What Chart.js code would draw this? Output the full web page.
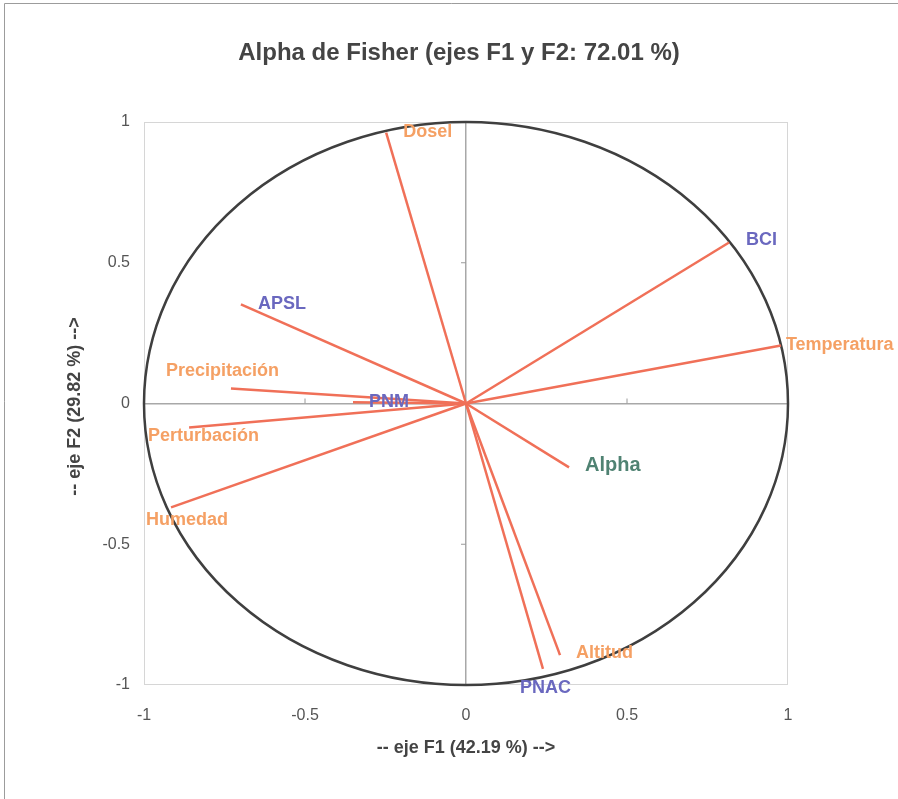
<!DOCTYPE html>
<html>
<head>
<meta charset="utf-8">
<script src="https://cdn.jsdelivr.net/npm/chart.js@4.4.1/dist/chart.umd.min.js"></script>
<style>
  html, body { margin: 0; padding: 0; background: #ffffff; }
  #wrap { width: 898px; height: 799px; position: relative; }
</style>
</head>
<body>
<div id="wrap"><canvas id="c" width="898" height="799"></canvas></div>
<script>
// ---- data ----
const chartTitle = 'Alpha de Fisher (ejes F1 y F2: 72.01 %)';
const xAxisTitle = '-- eje F1 (42.19 %) -->';
const yAxisTitle = '-- eje F2 (29.82 %) -->';
const tickValues = [-1, -0.5, 0, 0.5, 1];
const tickLabels = ['-1', '-0.5', '0', '0.5', '1'];
const varNames = ['Dosel', 'APSL', 'Precipitación', 'PNM', 'Perturbación', 'Humedad', 'BCI', 'Temperatura', 'Alpha', 'Altitud', 'PNAC'];
const f1Values = [-0.248, -0.699, -0.730, -0.351, -0.860, -0.916, 0.817, 0.978, 0.320, 0.292, 0.239];
const f2Values = [0.962, 0.352, 0.053, 0.004, -0.085, -0.369, 0.572, 0.206, -0.227, -0.894, -0.943];
const varGroups = ['activa', 'sup', 'activa', 'sup', 'activa', 'activa', 'sup', 'activa', 'dep', 'activa', 'sup'];

// ---- styles / label placement (pixels) ----
const FONT = '"Liberation Sans", Arial, sans-serif';
const groupColors = { activa: '#f5a064', sup: '#6a68bf', dep: '#4f8272' };
const groupFonts = { activa: 'bold 18px ' + FONT, sup: 'bold 18px ' + FONT, dep: 'bold 20px ' + FONT };
const labelOffsets = {
  'Dosel': [17, -1], 'APSL': [17, 0], 'Precipitación': [-65, -18], 'PNM': [16, 0],
  'Perturbación': [-41, 9], 'Humedad': [-25, 13], 'BCI': [17, -2], 'Temperatura': [5, 0],
  'Alpha': [16, -2], 'Altitud': [16, -2], 'PNAC': [-23, 19]
};

const datasets = varNames.map((name, i) => ({
  label: name,
  data: [{ x: 0, y: 0 }, { x: f1Values[i], y: f2Values[i] }],
  showLine: true,
  borderColor: '#f07058',
  borderWidth: 2.5,
  pointRadius: 0,
  fill: false
}));

const decorPlugin = {
  id: 'decor',
  beforeDatasetsDraw(chart) {
    const { ctx, chartArea: a, scales: { x, y } } = chart;
    ctx.save();
    ctx.strokeStyle = '#d6d6d6';
    ctx.lineWidth = 1;
    ctx.strokeRect(a.left + 0.5, a.top + 0.5, a.right - a.left - 1, a.bottom - a.top - 1);
    const x0 = x.getPixelForValue(0), y0 = y.getPixelForValue(0);
    ctx.strokeStyle = '#9a9a9a';
    ctx.lineWidth = 1;
    [-0.5, 0.5].forEach(v => {
      const px = x.getPixelForValue(v);
      ctx.beginPath(); ctx.moveTo(px, y0); ctx.lineTo(px, y0 - 5); ctx.stroke();
      const py = y.getPixelForValue(v);
      ctx.beginPath(); ctx.moveTo(x0, py); ctx.lineTo(x0 - 5, py); ctx.stroke();
    });
    const rx = x.getPixelForValue(1) - x0;
    const ry = y0 - y.getPixelForValue(1);
    ctx.strokeStyle = '#3f3f3f';
    ctx.lineWidth = 2.5;
    ctx.beginPath();
    ctx.ellipse(x0, y0, rx, ry, 0, 0, Math.PI * 2);
    ctx.stroke();
    ctx.restore();
  },
  afterDatasetsDraw(chart) {
    const { ctx, scales: { x, y } } = chart;
    ctx.save();
    ctx.textBaseline = 'middle';
    ctx.textAlign = 'left';
    varNames.forEach((name, i) => {
      const g = varGroups[i];
      const off = labelOffsets[name];
      ctx.font = groupFonts[g];
      ctx.fillStyle = groupColors[g];
      ctx.fillText(name, x.getPixelForValue(f1Values[i]) + off[0], y.getPixelForValue(f2Values[i]) + off[1]);
    });
    ctx.restore();
  },
  afterDraw(chart) {
    const { ctx, chartArea: a } = chart;
    ctx.save();
    ctx.fillStyle = '#444444';
    ctx.textAlign = 'center';
    ctx.textBaseline = 'middle';
    ctx.font = 'bold 24px ' + FONT;
    ctx.fillText(chartTitle, 459, 53);
    ctx.font = 'bold 18px ' + FONT;
    ctx.fillText(xAxisTitle, (a.left + a.right) / 2, 748);
    ctx.translate(75, (a.top + a.bottom) / 2 + 3);
    ctx.rotate(-Math.PI / 2);
    ctx.fillText(yAxisTitle, 0, 0);
    ctx.restore();
    ctx.save();
    ctx.strokeStyle = '#9c9c9c';
    ctx.lineWidth = 1;
    ctx.beginPath();
    ctx.moveTo(4.5, 799); ctx.lineTo(4.5, 3.5); ctx.lineTo(898, 3.5);
    ctx.stroke();
    ctx.restore();
  }
};

const gridColor = c => (c.tick && c.tick.value === 0) ? '#a8a8a8' : 'rgba(0,0,0,0)';
const tickLabel = v => tickLabels[tickValues.indexOf(v)] ?? String(v);

new Chart(document.getElementById('c'), {
  type: 'scatter',
  data: { datasets },
  options: {
    responsive: false,
    animation: false,
    events: [],
    layout: { padding: { left: 0, top: 122, right: 110, bottom: 0 } },
    plugins: { legend: { display: false }, tooltip: { enabled: false }, title: { display: false } },
    scales: {
      x: {
        type: 'linear', min: -1, max: 1,
        afterBuildTicks: s => { s.ticks = tickValues.map(v => ({ value: v })); },
        afterFit: s => { s.height = 114; },
        grid: { color: gridColor, lineWidth: 1.5, drawTicks: false },
        border: { display: false },
        ticks: { padding: 21, color: '#555555', font: { family: FONT, size: 16 }, maxRotation: 0, callback: tickLabel }
      },
      y: {
        type: 'linear', min: -1, max: 1,
        afterBuildTicks: s => { s.ticks = tickValues.map(v => ({ value: v })); },
        afterFit: s => { s.width = 144; },
        grid: { color: gridColor, lineWidth: 1.5, drawTicks: false },
        border: { display: false },
        ticks: { padding: 14, color: '#555555', font: { family: FONT, size: 16 }, callback: tickLabel }
      }
    }
  },
  plugins: [decorPlugin]
});
</script>
</body>
</html>
